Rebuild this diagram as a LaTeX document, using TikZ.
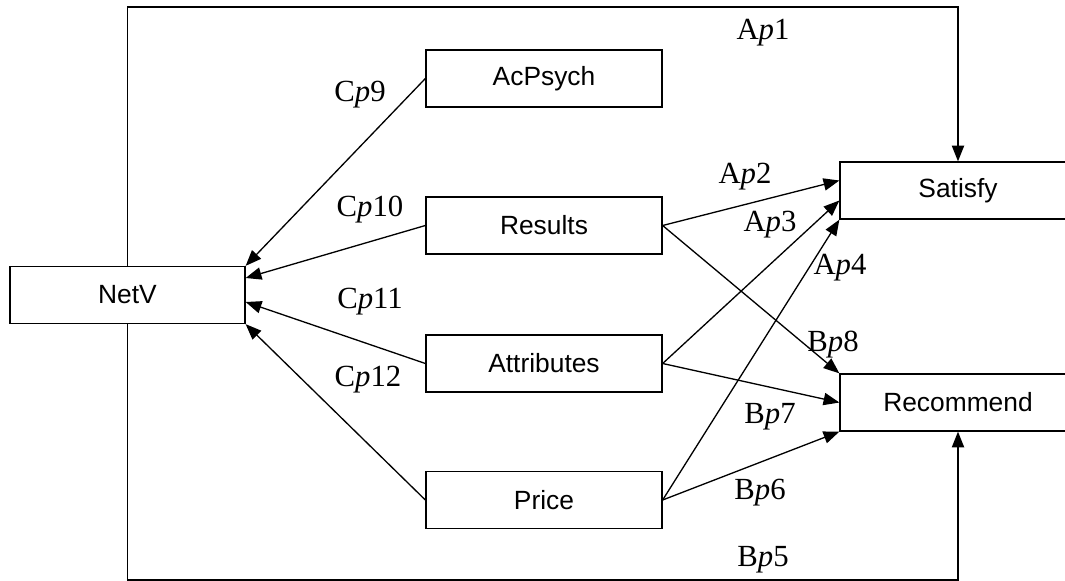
\documentclass[tikz,border=0pt]{standalone}
\usepackage{fontspec}
\setmainfont{Liberation Serif}
\setsansfont{Liberation Sans}
\usetikzlibrary{arrows.meta}
\begin{document}
\begin{tikzpicture}[x=0.02cm,y=-0.02cm,
  box/.style={draw,line width=0.75pt,minimum width=4.72cm,minimum height=1.14cm,inner sep=0pt,font=\sffamily\fontsize{15}{17}\selectfont},
  lab/.style={font=\rmfamily\fontsize{17.5}{19}\selectfont,inner sep=0pt},
  arr/.style={-{Triangle[length=9pt,width=7pt]},line width=0.75pt}]
  \useasboundingbox (0,0) rectangle (1065,581);
  % boxes
  \node[box,minimum width=4.7cm] (NetV) at (127.5,295) {NetV};
  \node[box] (AcPsych) at (544,78.5) {AcPsych};
  \node[box] (Results) at (544,225.5) {Results};
  \node[box] (Attributes) at (544,363.5) {Attributes};
  \node[box] (Price) at (544,500) {Price};
  \node[box] (Satisfy) at (958,190.5) {Satisfy};
  \node[box] (Recommend) at (958,402.5) {Recommend};
  \coordinate (top) at (0,7);
  \coordinate (bot) at (0,580);
  % into NetV
  \draw[arr] (AcPsych.west) -- (NetV.north east);
  \draw[arr] (Results.west) -- ([yshift=0.34cm]NetV.east);
  \draw[arr] (Attributes.west) -- ([yshift=-0.14cm]NetV.east);
  \draw[arr] (Price.west) -- (NetV.south east);
  % into Satisfy / Recommend
  \draw[arr] (Results.east) -- ([yshift=0.2cm]Satisfy.west);
  \draw[arr] (Attributes.east) -- ([yshift=-0.2cm]Satisfy.west);
  \draw[arr] (Price.east) -- (Satisfy.south west);
  \draw[arr] (Results.east) -- (Recommend.north west);
  \draw[arr] (Attributes.east) -- (Recommend.west);
  \draw[arr] (Price.east) -- (Recommend.south west);
  % direct paths
  \draw[arr] (NetV.north) -- (NetV.north |- top) -| (Satisfy.north);
  \draw[arr] (NetV.south) -- (NetV.south |- bot) -| (Recommend.south);
  % labels
  \node[lab] (lAp1) at (763,33) {A\textit{p}1};
  \node[lab] (lAp2) at (745,177) {A\textit{p}2};
  \node[lab] (lAp3) at (770,225) {A\textit{p}3};
  \node[lab] (lAp4) at (840,268) {A\textit{p}4};
  \node[lab] (lBp5) at (763,560) {B\textit{p}5};
  \node[lab] (lBp6) at (760,493) {B\textit{p}6};
  \node[lab] (lBp7) at (770,417) {B\textit{p}7};
  \node[lab] (lBp8) at (833,345) {B\textit{p}8};
  \node[lab] (lCp9) at (360,95) {C\textit{p}9};
  \node[lab] (lCp10) at (370,210) {C\textit{p}10};
  \node[lab] (lCp11) at (370,302) {C\textit{p}11};
  \node[lab] (lCp12) at (368,380) {C\textit{p}12};
\end{tikzpicture}
\end{document}
